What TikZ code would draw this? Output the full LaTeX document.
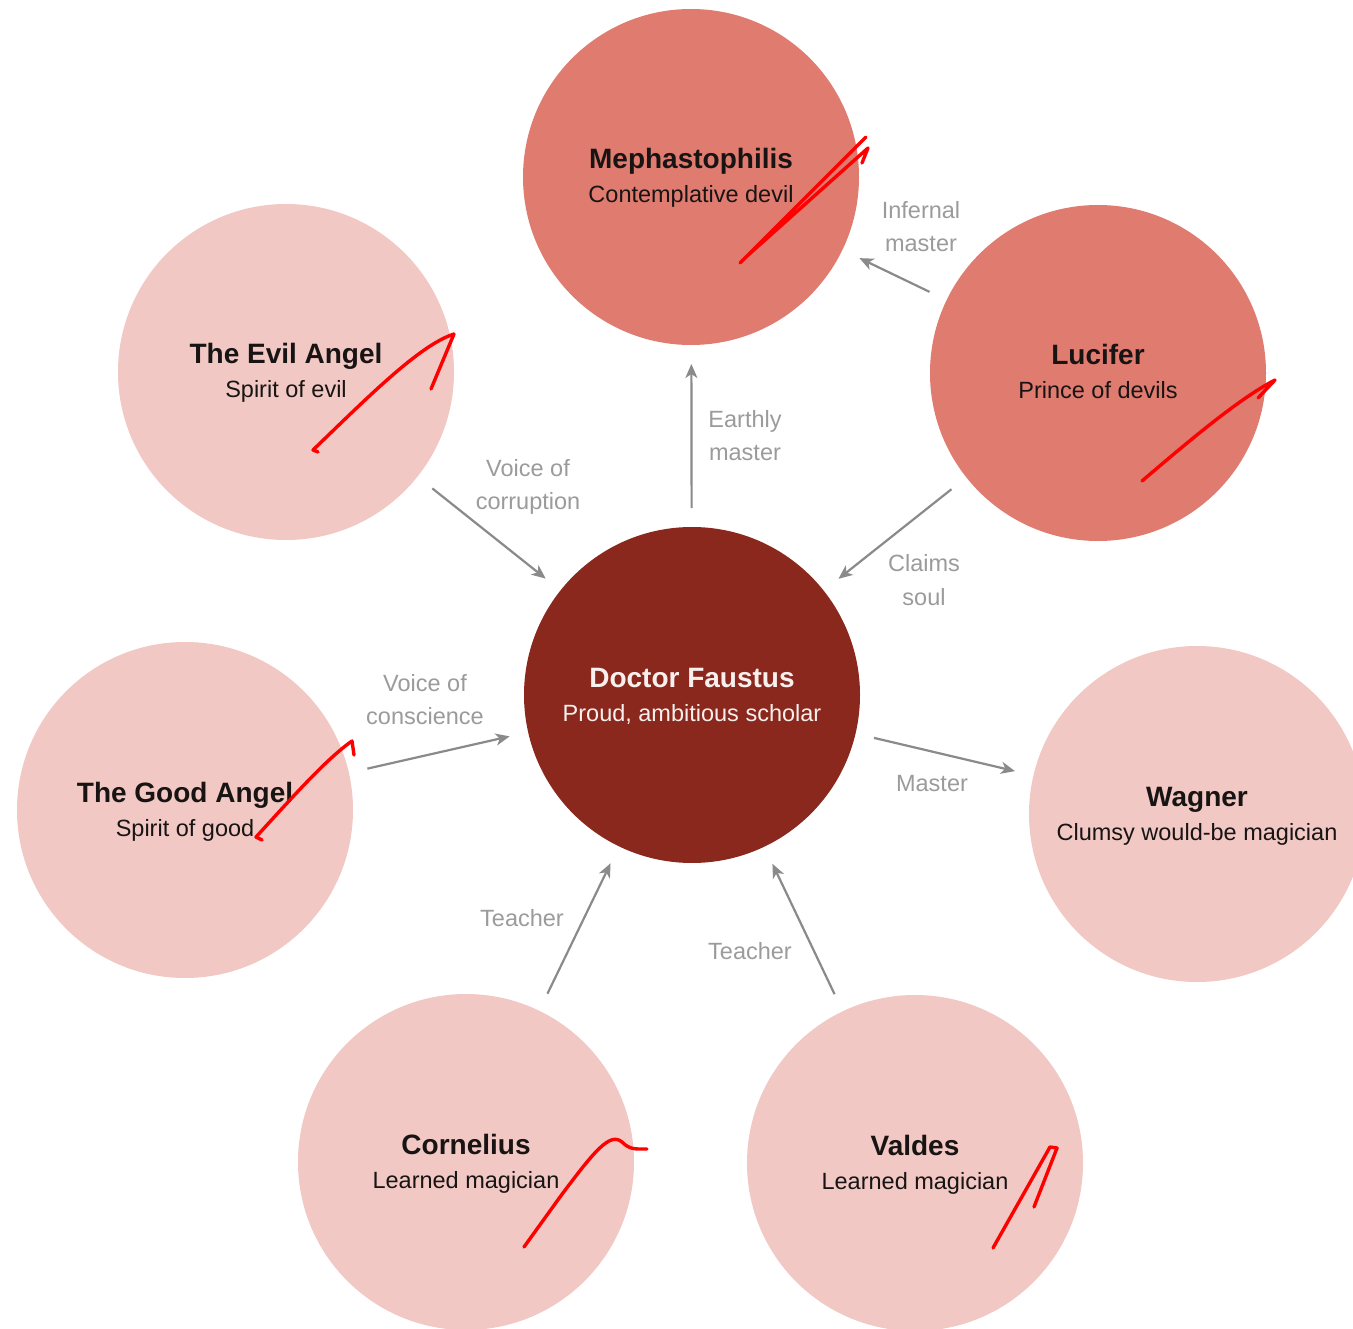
\documentclass[tikz,border=0pt]{standalone}
\usepackage{fontspec}
\setmainfont{Liberation Sans}
\usetikzlibrary{arrows.meta}
\definecolor{salmon}{RGB}{224,123,112}
\definecolor{blush}{RGB}{241,200,195}
\definecolor{faust}{RGB}{139,40,29}
\definecolor{arrgray}{RGB}{138,138,140}
\definecolor{labgray}{RGB}{155,155,155}
\definecolor{ink}{RGB}{24,20,20}
\definecolor{faustink}{RGB}{248,240,238}
\definecolor{scribble}{RGB}{255,0,0}
\begin{document}
\begin{tikzpicture}[x=1pt,y=-1pt,
  circ/.style={circle, minimum size=336pt, inner sep=0pt, outer sep=0pt, draw=none},
  ttl/.style={anchor=base, inner sep=0pt, text=ink, font=\fontsize{28}{34}\selectfont\bfseries},
  sub/.style={anchor=base, inner sep=0pt, text=ink, font=\fontsize{23.5}{28}\selectfont},
  lab/.style={anchor=base, inner sep=0pt, text=labgray, font=\fontsize{23.5}{33}\selectfont},
  arr/.style={draw=arrgray, line width=2.2pt, -{Stealth[length=14pt,width=12pt,inset=4pt]}, shorten <=19pt, shorten >=19pt},
  redmark/.style={draw=scribble, line width=3.4pt, line cap=round, line join=round}
]
\clip (0,0) rectangle (1353,1329);
\fill[white] (0,0) rectangle (1353,1329);

% circles
\node[circ, fill=salmon] (meph) at (691,177) {};
\node[circ, fill=blush]  (evil) at (286,372) {};
\node[circ, fill=salmon] (luc)  at (1098,373) {};
\node[circ, fill=faust]  (faus) at (692,695) {};
\node[circ, fill=blush]  (good) at (185,810) {};
\node[circ, fill=blush]  (wag)  at (1197,814) {};
\node[circ, fill=blush]  (corn) at (466,1162) {};
\node[circ, fill=blush]  (vald) at (915,1163) {};

% circle texts
\node[ttl] (meph-t) at ([yshift=8pt]meph.center) {Mephastophilis};
\node[sub] (meph-s) at ([yshift=-26pt]meph.center) {Contemplative devil};
\node[ttl] (evil-t) at ([yshift=8pt]evil.center) {The Evil Angel};
\node[sub] (evil-s) at ([yshift=-26pt]evil.center) {Spirit of evil};
\node[ttl] (luc-t) at ([yshift=8pt]luc.center) {Lucifer};
\node[sub] (luc-s) at ([yshift=-26pt]luc.center) {Prince of devils};
\node[ttl, text=faustink] (faus-t) at ([yshift=8pt]faus.center) {Doctor Faustus};
\node[sub, text=faustink] (faus-s) at ([yshift=-26pt]faus.center) {Proud, ambitious scholar};
\node[ttl] (good-t) at ([yshift=8pt]good.center) {The Good Angel};
\node[sub] (good-s) at ([yshift=-26pt]good.center) {Spirit of good};
\node[ttl] (wag-t) at ([yshift=8pt]wag.center) {Wagner};
\node[sub] (wag-s) at ([yshift=-26pt]wag.center) {Clumsy would-be magician};
\node[ttl] (corn-t) at ([yshift=8pt]corn.center) {Cornelius};
\node[sub] (corn-s) at ([yshift=-26pt]corn.center) {Learned magician};
\node[ttl] (vald-t) at ([yshift=8pt]vald.center) {Valdes};
\node[sub] (vald-s) at ([yshift=-26pt]vald.center) {Learned magician};

% connectors
\draw[arr] (luc) -- (meph);
\draw[arr] (faus) -- (meph);
\draw[arr] (evil) -- (faus);
\draw[arr] (luc) -- (faus);
\draw[arr] (good) -- (faus);
\draw[arr] (faus) -- (wag);
\draw[arr] (corn) -- (faus);
\draw[arr] (vald) -- (faus);

% connector labels
\node[lab] (l-inf) at (921,219) {\begin{tabular}[t]{@{}c@{}}Infernal\\master\end{tabular}};
\node[lab] (l-ear) at (745,428) {\begin{tabular}[t]{@{}c@{}}Earthly\\master\end{tabular}};
\node[lab] (l-cor) at (528,477) {\begin{tabular}[t]{@{}c@{}}Voice of\\corruption\end{tabular}};
\node[lab] (l-cla) at (924,572) {\begin{tabular}[t]{@{}c@{}}Claims\\soul\end{tabular}};
\node[lab] (l-con) at (425,691) {\begin{tabular}[t]{@{}c@{}}Voice of\\conscience\end{tabular}};
\node[lab] (l-mas) at (932,791) {Master};
\node[lab] (l-te1) at (522,926) {Teacher};
\node[lab] (l-te2) at (750,959) {Teacher};

% hand-drawn red marks
\draw[redmark] (740,263) -- (866,137) -- (746,257) -- (868,148) -- (862,163);
\draw[redmark] (318,452) -- (313,450) .. controls (370,395) and (420,345) .. (454,334) -- (431,389);
\draw[redmark] (1142,481) .. controls (1190,440) and (1240,398) .. (1275,380) -- (1258,398);
\draw[redmark] (262,840) -- (256,837) .. controls (290,800) and (325,760) .. (352,741) -- (354,755);
\draw[redmark] (524,1247) -- (560,1197) .. controls (595,1150) and (610,1132) .. (622,1142) .. controls (630,1150) and (636,1149) .. (647,1149);
\draw[redmark] (993,1248) -- (1050,1147) -- (1057,1148) -- (1034,1207);
\end{tikzpicture}
\end{document}
